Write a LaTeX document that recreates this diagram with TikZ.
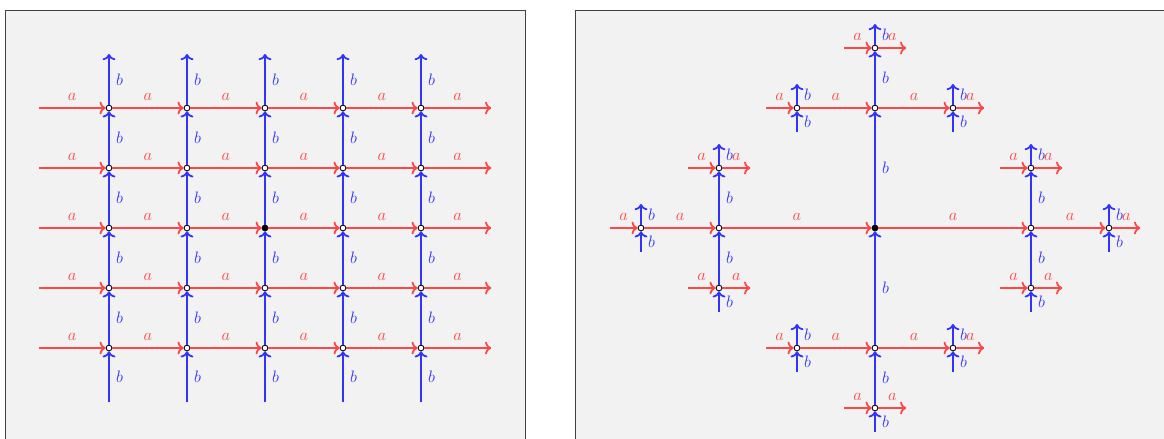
\documentclass[tikz,border=0pt]{standalone}
\usepackage{tikz}
\usetikzlibrary{arrows.meta}
\definecolor{agen}{RGB}{255,70,70}
\definecolor{bgen}{RGB}{50,50,255}
\tikzset{
  panel/.style={draw=black!75, fill=black!5, line width=0.6pt},
  vtx/.style={circle, draw=black, fill=white, line width=0.6pt, inner sep=0pt, minimum size=4.2pt},
  rootvtx/.style={vtx, fill=black},
  aedge/.style={->, draw=agen, line width=1.3pt},
  bedge/.style={->, draw=bgen, line width=1.3pt},
  alab/.style={above=1.2pt, text=agen, font=\fontsize{11.5}{13}\selectfont},
  blab/.style={right=1.2pt, text=bgen, font=\fontsize{11.5}{13}\selectfont},
  unit/.style={x=1.98752cm, y=1.52886cm},
}

\begin{document}
\begin{tikzpicture}
  \useasboundingbox (0,0) rectangle (29.66,11.1607);
  \clip (0,0) rectangle (29.66,11.1607);
  \draw[panel] (0.140,-1) rectangle (13.390,10.893);
  \draw[panel] (14.664,-1) rectangle (31,10.893);

  % grid Z^2
  \begin{scope}[shift={(6.7524,5.3510)}, unit]
    \foreach \i in {-2,...,2}
      \foreach \j in {-2,...,2}{
        \def\st{vtx}
        \ifnum\i=0 \ifnum\j=0 \def\st{rootvtx}\fi\fi
        \node[\st] (g\i\j) at (\i,\j) {};
      }
    \foreach \k in {-2,...,2}{
      \coordinate (gw\k) at (-2.9,\k);
      \coordinate (ge\k) at (2.9,\k);
      \coordinate (gs\k) at (\k,-2.9);
      \coordinate (gn\k) at (\k,2.9);
    }
    \foreach \j in {-2,...,2}{
      \draw[aedge] (gw\j) -- node[alab] {$a$} (g-2\j);
      \draw[aedge] (g2\j) -- node[alab] {$a$} (ge\j);
      \foreach \i [evaluate=\i as \k using int(\i+1)] in {-2,...,1}
        \draw[aedge] (g\i\j) -- node[alab] {$a$} (g\k\j);
    }
    \foreach \i in {-2,...,2}{
      \draw[bedge] (gs\i) -- node[blab] {$b$} (g\i-2);
      \draw[bedge] (g\i2) -- node[blab] {$b$} (gn\i);
      \foreach \j [evaluate=\j as \k using int(\j+1)] in {-2,...,1}
        \draw[bedge] (g\i\j) -- node[blab] {$b$} (g\i\k);
    }
  \end{scope}

  % ball of radius 3 in the free group
  \begin{scope}[shift={(22.2959,5.3510)}, unit]
    \node[rootvtx] (c) at (0,0) {};
    \foreach \n/\x/\y in {L/-2/0, R/2/0, U/0/2, D/0/-2,
        LL/-3/0, LU/-2/1, LD/-2/-1, RR/3/0, RU/2/1, RD/2/-1,
        UL/-1/2, UR/1/2, UU/0/3, DL/-1/-2, DR/1/-2, DD/0/-3}
      \node[vtx] (\n) at (\x,\y) {};

    \foreach \s/\t in {L/c, c/R, LL/L, R/RR, UL/U, U/UR, DL/D, D/DR}
      \draw[aedge] (\s) -- node[alab] {$a$} (\t);
    \foreach \s/\t in {c/U, D/c, L/LU, LD/L, R/RU, RD/R, U/UU, DD/D}
      \draw[bedge] (\s) -- node[blab] {$b$} (\t);

    % short stubs at the leaves
    \foreach \n in {LL, LU, LD, RU, RD, UL, UU, DL, DD}{
      \path (\n) ++(-0.4,0) coordinate (\n w);
      \draw[aedge] (\n w) -- node[alab] {$a$} (\n);
    }
    \foreach \n in {LU, LD, RR, RU, RD, UR, UU, DR, DD}{
      \path (\n) ++(0.4,0) coordinate (\n e);
      \draw[aedge] (\n) -- node[alab] {$a$} (\n e);
    }
    \foreach \n in {LL, LD, RR, RD, UL, UR, DL, DR, DD}{
      \path (\n) ++(0,-0.4) coordinate (\n s);
      \draw[bedge] (\n s) -- node[blab] {$b$} (\n);
    }
    \foreach \n in {LL, LU, RR, RU, UL, UR, UU, DL, DR}{
      \path (\n) ++(0,0.4) coordinate (\n n);
      \draw[bedge] (\n) -- node[blab] {$b$} (\n n);
    }
  \end{scope}
\end{tikzpicture}
\end{document}
